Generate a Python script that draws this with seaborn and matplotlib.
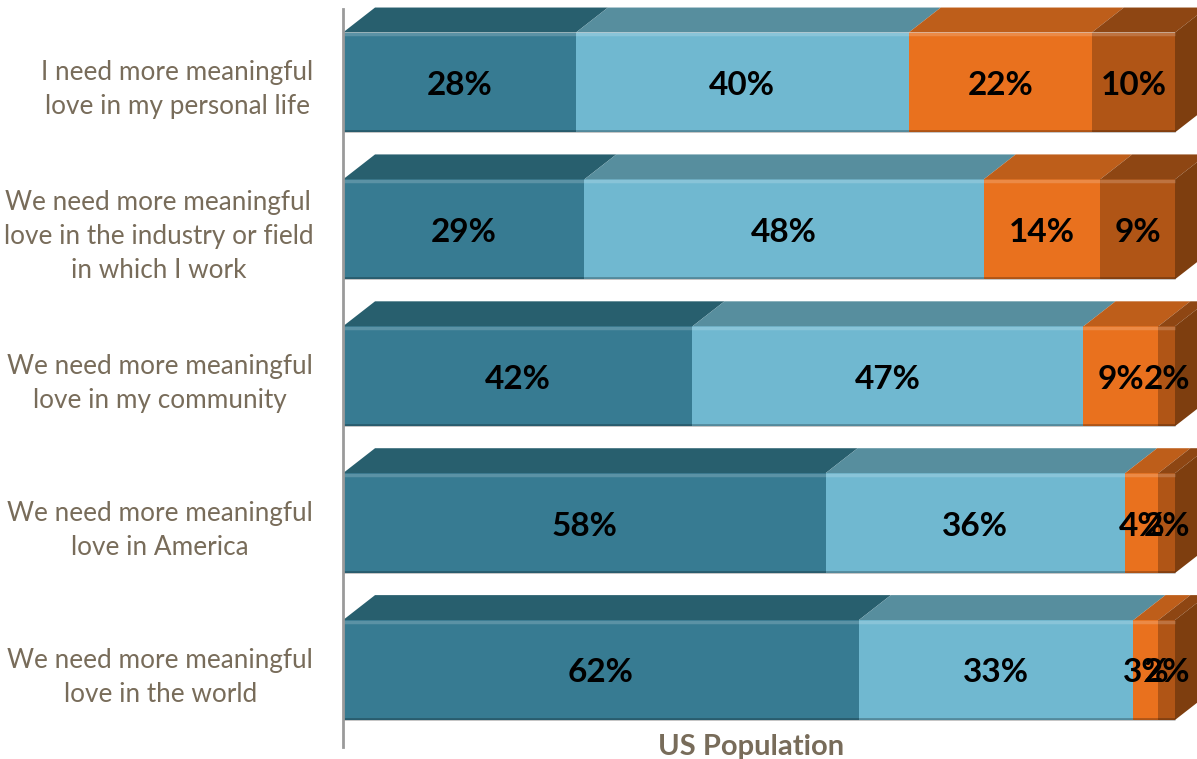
import matplotlib
matplotlib.use("Agg")
import matplotlib.pyplot as plt
from matplotlib.patches import Polygon
import numpy as np
import pandas as pd
import seaborn as sns

# Survey statements and response shares (%)
categories = [
    "I need more meaningful\nlove in my personal life",
    "We need more meaningful\nlove in the industry or field\nin which I work",
    "We need more meaningful\nlove in my community",
    "We need more meaningful\nlove in America",
    "We need more meaningful\nlove in the world",
]
strongly_agree = [28, 29, 42, 58, 62]
somewhat_agree = [40, 48, 47, 36, 33]
somewhat_disagree = [22, 14, 9, 4, 3]
strongly_disagree = [10, 9, 2, 2, 2]

series = [strongly_agree, somewhat_agree, somewhat_disagree, strongly_disagree]
front_colors = ["#377B92", "#70B8D0", "#E9711E", "#B05516"]
top_colors = ["#285F6E", "#578E9E", "#BE5E1A", "#8E4613"]
side_color = "#7E3E0F"
text_color = "#786C5A"

sns.set_theme(style="white")
plt.rcParams["font.family"] = ["Lato", "DejaVu Sans"]

fig = plt.figure(figsize=(11.97, 7.59), dpi=100)
ax = fig.add_axes([343 / 1197, 12 / 759, 854 / 1197, 738 / 759])

# Stack the segments by drawing cumulative totals from longest to shortest
values = np.array(series, dtype=float)
cumulative = np.cumsum(values, axis=0)
bar_h = 0.68
for i in range(len(series) - 1, -1, -1):
    df = pd.DataFrame({"category": categories, "value": cumulative[i]})
    sns.barplot(data=df, x="value", y="category", orient="h", color=front_colors[i],
                width=bar_h, saturation=1, ax=ax, linewidth=0, errorbar=None)

ax.set_xlim(0, 854 / 8.32)
ax.set_ylim(4.524, -0.5)

# 3-D depth of the bars, in data units
dx, dy = 3.85, 0.17
starts = cumulative - values
for r in range(len(categories)):
    y_top = r - bar_h / 2
    y_bot = r + bar_h / 2
    for i in range(len(series)):
        x0, x1 = starts[i, r], cumulative[i, r]
        top = Polygon([(x0, y_top), (x1, y_top), (x1 + dx, y_top - dy), (x0 + dx, y_top - dy)],
                      closed=True, facecolor=top_colors[i], edgecolor="none", clip_on=False)
        ax.add_patch(top)
        # thin highlight along the upper edge of the front face
        ax.plot([x0, x1], [y_top + 0.012, y_top + 0.012], color="white", alpha=0.18,
                lw=2.5, solid_capstyle="butt")
        # darker edge along the bottom of the front face
        ax.plot([x0, x1], [y_bot - 0.008, y_bot - 0.008], color="black", alpha=0.25,
                lw=2, solid_capstyle="butt")
        ax.text((x0 + x1) / 2, r + 0.02, f"{int(values[i, r])}%", ha="center", va="center",
                fontsize=24, fontweight="bold", color="black")
    x_end = cumulative[-1, r]
    side = Polygon([(x_end, y_top), (x_end + dx, y_top - dy), (x_end + dx, y_bot - dy), (x_end, y_bot)],
                   closed=True, facecolor=side_color, edgecolor="none", clip_on=False)
    ax.add_patch(side)

# Axes styling
for s in ["top", "right", "bottom"]:
    ax.spines[s].set_visible(False)
ax.spines["left"].set_color("#9A9A9A")
ax.spines["left"].set_linewidth(2)
ax.set_xticks([])
ax.set_ylabel("")
ax.tick_params(axis="y", length=0, pad=21.5, labelsize=18.8, labelcolor=text_color)
for lbl in ax.get_yticklabels():
    lbl.set_multialignment("center")
    lbl.set_linespacing(1.45)

ax.set_xlabel("US Population", fontsize=21, fontweight="bold", color=text_color)
ax.xaxis.set_label_coords(408 / 854, 0.0)
ax.xaxis.label.set_va("center")

fig.savefig("out.png", dpi=100)
